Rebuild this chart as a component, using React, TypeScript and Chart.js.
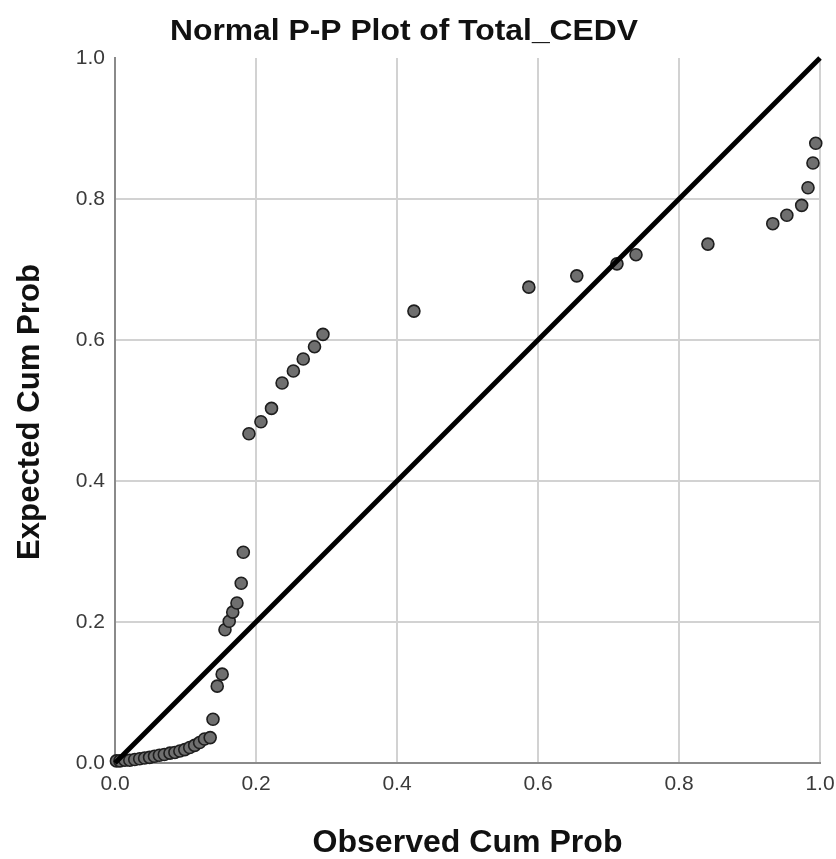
import React, { useEffect, useRef } from "react";
import { Chart, registerables } from "chart.js";

Chart.register(...registerables);

// Observed vs expected cumulative probabilities for Total_CEDV
const observedCumProb: number[] = [
  0.002, 0.007, 0.014, 0.021, 0.028, 0.035, 0.042, 0.049, 0.056, 0.063,
  0.070, 0.078, 0.085, 0.092, 0.099, 0.106, 0.113, 0.120, 0.127, 0.135,
  0.139, 0.145, 0.152, 0.156, 0.162, 0.167, 0.173, 0.179, 0.182,
  0.190, 0.207, 0.222, 0.237, 0.253, 0.267, 0.283, 0.295,
  0.424, 0.587, 0.655, 0.712, 0.739, 0.841,
  0.933, 0.953, 0.974, 0.983, 0.990, 0.994,
];
const expectedCumProb: number[] = [
  0.003, 0.003, 0.004, 0.004, 0.005, 0.006, 0.007, 0.008, 0.0095, 0.011,
  0.012, 0.014, 0.015, 0.017, 0.019, 0.022, 0.025, 0.029, 0.034, 0.036,
  0.062, 0.109, 0.126, 0.189, 0.201, 0.214, 0.227, 0.255, 0.299,
  0.467, 0.484, 0.503, 0.539, 0.556, 0.573, 0.5905, 0.608,
  0.641, 0.675, 0.691, 0.708, 0.721, 0.736,
  0.765, 0.777, 0.791, 0.816, 0.851, 0.879,
];
const diagonalX: number[] = [0, 1];
const diagonalY: number[] = [0, 1];
const axisTicks: number[] = [0, 0.2, 0.4, 0.6, 0.8, 1.0];

const titleText = "Normal P-P Plot of Total_CEDV";
const xTitleText = "Observed Cum Prob";
const yTitleText = "Expected Cum Prob";

const WIDTH = 836;
const HEIGHT = 859;
const FONT = "'Liberation Sans', Arial, sans-serif";

// Draws text whose horizontal extent is fitted to a given width
function drawFitted(ctx: any, text: string, cx: number, baseline: number, width: number) {
  const natural = ctx.measureText(text).width;
  ctx.save();
  ctx.translate(cx, baseline);
  ctx.scale(width / natural, 1);
  ctx.textAlign = "center";
  ctx.textBaseline = "alphabetic";
  ctx.fillText(text, 0, 0);
  ctx.restore();
}

// Title and axis captions drawn around the plot area
const captionsPlugin = {
  id: "captions",
  afterDraw(chart: any) {
    const { ctx, chartArea } = chart;
    ctx.save();
    ctx.fillStyle = "#111";
    ctx.font = `bold 30px ${FONT}`;
    drawFitted(ctx, titleText, 404, 40, 468);
    ctx.font = `bold 32px ${FONT}`;
    drawFitted(ctx, xTitleText, (chartArea.left + chartArea.right) / 2, 852, 310);
    ctx.save();
    ctx.translate(39, 412);
    ctx.rotate(-Math.PI / 2);
    drawFitted(ctx, yTitleText, 0, 0, 296);
    ctx.restore();
    ctx.restore();
  },
};

export default function App() {
  const canvasRef = useRef<HTMLCanvasElement | null>(null);

  useEffect(() => {
    document.body.style.margin = "0";
    const canvas = canvasRef.current;
    if (!canvas) return;

    const tickFont = { family: FONT, size: 21 };

    const chart = new Chart(canvas, {
      type: "scatter",
      data: {
        datasets: [
          {
            type: "line",
            label: "Diagonal",
            data: diagonalX.map((x, i) => ({ x, y: diagonalY[i] })),
            borderColor: "#000",
            borderWidth: 5,
            pointRadius: 0,
            fill: false,
            order: 0,
            clip: false as any,
          },
          {
            type: "scatter",
            label: "Total_CEDV",
            data: observedCumProb.map((x, i) => ({ x, y: expectedCumProb[i] })),
            backgroundColor: "#6f6f6f",
            borderColor: "#1e1e1e",
            borderWidth: 1.6,
            pointRadius: 6,
            order: 1,
            clip: false as any,
          },
        ],
      },
      options: {
        responsive: false,
        animation: false,
        layout: { padding: { left: 0, right: 16, top: 58, bottom: 0 } },
        plugins: {
          legend: { display: false },
          tooltip: { enabled: false },
          title: { display: false },
        },
        scales: {
          x: {
            type: "linear",
            min: 0,
            max: 1,
            afterBuildTicks: (scale: any) => {
              scale.ticks = axisTicks.map((v) => ({ value: v }));
            },
            afterFit: (scale: any) => {
              scale.height = 96;
              scale.paddingLeft = 0;
              scale.paddingRight = 0;
            },
            ticks: {
              color: "#3a3a3a",
              font: tickFont,
              padding: 9,
              maxRotation: 0,
              callback: (v: any) => Number(v).toFixed(1),
            },
            grid: {
              color: (c: any) => (c.tick && c.tick.value === 0 ? "rgba(0,0,0,0)" : "#d2d2d2"),
              lineWidth: 2,
              drawTicks: false,
            },
            border: { color: "#8a8a8a", width: 2 },
          },
          y: {
            type: "linear",
            min: 0,
            max: 1,
            afterBuildTicks: (scale: any) => {
              scale.ticks = axisTicks.map((v) => ({ value: v }));
            },
            afterFit: (scale: any) => {
              scale.width = 115;
              scale.paddingTop = 0;
              scale.paddingBottom = 0;
            },
            ticks: {
              color: "#3a3a3a",
              font: tickFont,
              padding: 10,
              callback: (v: any) => Number(v).toFixed(1),
            },
            grid: {
              color: (c: any) =>
                c.tick && (c.tick.value === 0 || c.tick.value === 1) ? "rgba(0,0,0,0)" : "#d2d2d2",
              lineWidth: 2,
              drawTicks: false,
            },
            border: { color: "#8a8a8a", width: 2 },
          },
        },
      },
      plugins: [captionsPlugin],
    } as any);

    return () => chart.destroy();
  }, []);

  return (
    <div style={{ width: WIDTH, height: HEIGHT, background: "#fff" }}>
      <canvas ref={canvasRef} width={WIDTH} height={HEIGHT} style={{ display: "block" }} />
    </div>
  );
}
